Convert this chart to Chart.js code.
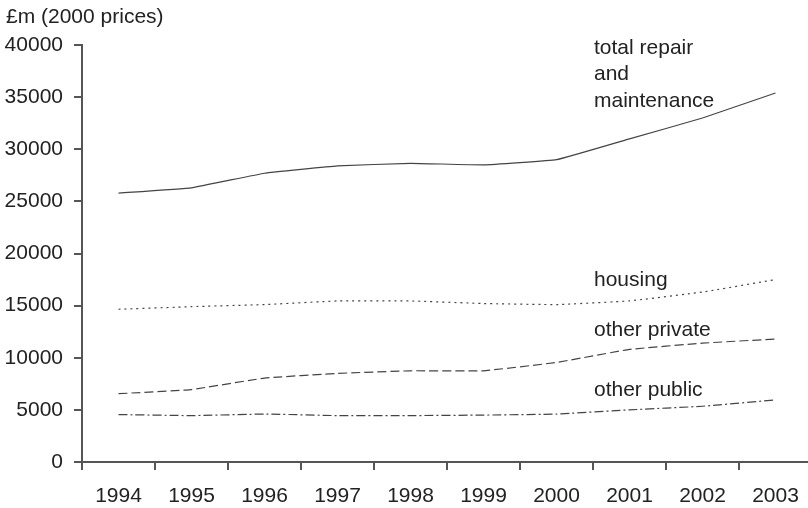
<!DOCTYPE html>
<html>
<head>
<meta charset="utf-8">
<script src="https://cdn.jsdelivr.net/npm/chart.js@4/dist/chart.umd.min.js"></script>
<style>
  html, body { margin: 0; padding: 0; background: #fff; overflow: hidden; }
  #wrap { width: 813px; height: 508px; }
</style>
</head>
<body>
<div id="wrap"><canvas id="repairChart" width="813" height="508"></canvas></div>
<script>
// years on the x axis
var years = ['1994', '1995', '1996', '1997', '1998', '1999', '2000', '2001', '2002', '2003'];
// £m at 2000 prices
var totalRepair  = [25800, 26300, 27700, 28400, 28650, 28500, 29000, 31000, 33000, 35400];
var housing      = [14650, 14900, 15100, 15450, 15450, 15200, 15100, 15450, 16300, 17500];
var otherPrivate = [6550, 6950, 8050, 8500, 8750, 8750, 9550, 10800, 11400, 11800];
var otherPublic  = [4550, 4450, 4600, 4450, 4450, 4500, 4600, 5000, 5350, 5950];
var yTicks = [0, 5000, 10000, 15000, 20000, 25000, 30000, 35000, 40000];

var axisTitle = '£m (2000 prices)';
var seriesLabels = [
	['total repair', 'and', 'maintenance'],
	['housing'],
	['other private'],
	['other public']
];

var ink = '#444';
var axisInk = '#555';
var fontFam = '"Liberation Sans", Arial, Helvetica, sans-serif';
var fontSize = 21;

function lineSet(name, values, dash) {
	return {
		label: name,
		data: values,
		borderColor: ink,
		borderWidth: 1.2,
		borderDash: dash,
		pointRadius: 0,
		fill: false,
		tension: 0.08
	};
}

// text labels beside the lines, plus the axis title
var textPlugin = {
	id: 'textLabels',
	afterDraw: function (chart) {
		var ctx = chart.ctx;
		var x = chart.scales.x;
		ctx.save();
		ctx.fillStyle = '#222';
		ctx.font = fontSize + 'px ' + fontFam;
		ctx.textBaseline = 'alphabetic';
		ctx.textAlign = 'left';
		ctx.fillText(axisTitle, 6, 23);

		var left = (x.getPixelForValue(6) + x.getPixelForValue(7)) / 2 + 1;
		var baselines = [[53.5, 80, 106.5], [286], [336], [396]];
		for (var i = 0; i < seriesLabels.length; i++) {
			for (var j = 0; j < seriesLabels[i].length; j++) {
				ctx.fillText(seriesLabels[i][j], left, baselines[i][j]);
			}
		}
		ctx.restore();
	}
};

var ctx = document.getElementById('repairChart');
new Chart(ctx, {
	type: 'line',
	data: {
		labels: years,
		datasets: [
			lineSet('total repair and maintenance', totalRepair, []),
			lineSet('housing', housing, [2, 4]),
			lineSet('other private', otherPrivate, [9, 4]),
			lineSet('other public', otherPublic, [9, 3, 2, 3])
		]
	},
	options: {
		responsive: false,
		animation: false,
		devicePixelRatio: 1,
		layout: { padding: { top: 45, right: 1, left: 0, bottom: 0 } },
		plugins: {
			legend: { display: false },
			tooltip: { enabled: false }
		},
		scales: {
			x: {
				type: 'category',
				offset: true,
				grid: {
					offset: true,
					drawOnChartArea: false,
					drawTicks: true,
					tickLength: 8,
					color: axisInk,
					lineWidth: 2
				},
				border: { display: true, color: axisInk, width: 2 },
				ticks: {
					color: '#222',
					font: { family: fontFam, size: fontSize },
					padding: 14,
					maxRotation: 0,
					autoSkip: false
				},
				afterFit: function (s) { s.height = 46; }
			},
			y: {
				min: 0,
				max: 40000,
				afterBuildTicks: function (s) {
					s.ticks = yTicks.map(function (v) { return { value: v }; });
				},
				grid: {
					drawOnChartArea: false,
					drawTicks: true,
					tickLength: 8,
					color: axisInk,
					lineWidth: 2
				},
				border: { display: true, color: axisInk, width: 2 },
				ticks: {
					color: '#222',
					font: { family: fontFam, size: fontSize },
					padding: 11,
					callback: function (v) { return String(v); }
				},
				afterFit: function (s) { s.width = 82; }
			}
		}
	},
	plugins: [textPlugin]
});
</script>
</body>
</html>
